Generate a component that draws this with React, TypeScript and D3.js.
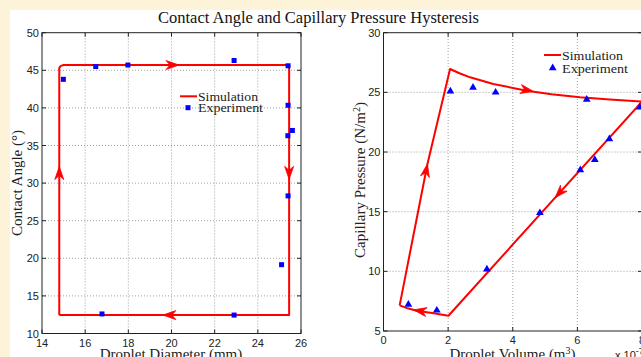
import * as d3 from 'd3';
import React from 'react';

// left panel: contact angle vs droplet diameter
const diaTicks = [14, 16, 18, 20, 22, 24, 26];
const angTicks = [10, 15, 20, 25, 30, 35, 40, 45, 50];
const simDia = [14.8, 14.8, 14.85, 15.0, 25.45, 25.45, 14.8];
const simAng = [12.45, 45.3, 45.55, 45.7, 45.7, 12.45, 12.45];
const expDia = [14.99, 16.49, 17.98, 22.9, 25.4, 25.4, 25.6, 25.39, 25.4, 25.1, 16.78, 22.9];
const expAng = [43.8, 45.5, 45.7, 46.3, 45.6, 40.35, 37.0, 36.3, 28.3, 19.15, 12.6, 12.45];
// arrow tips and the point each one comes from
const angArrowTip = [[14.8, 32.2], [20.35, 45.7], [25.45, 30.5], [19.6, 12.45]];
const angArrowFrom = [[14.8, 28], [18, 45.7], [25.45, 35], [22, 12.45]];

// right panel: capillary pressure vs droplet volume (x 1e-7)
const volTicks = [0, 2, 4, 6, 8];
const presTicks = [5, 10, 15, 20, 25, 30];
const simVol = [0.5, 1.36, 2.06, 2.35, 2.68, 3.4, 4.43, 5.2, 6.08, 7.0, 8.0, 2.01, 1.55, 1.03, 0.75, 0.5];
const simPres = [7.15, 19.0, 26.96, 26.6, 26.26, 25.7, 25.14, 24.85, 24.6, 24.4, 24.22, 6.28, 6.48, 6.7, 6.9, 7.15];
const expVol = [2.07, 2.77, 3.47, 6.29, 7.93, 6.99, 6.54, 6.09, 4.84, 3.2, 0.77, 1.65];
const expPres = [25.1, 25.4, 25.0, 24.4, 23.75, 21.1, 19.35, 18.5, 14.9, 10.17, 7.23, 6.73];
const presArrowTip = [[1.36, 19.0], [4.64, 25.08], [5.31, 16.16], [0.93, 6.77]];
const presArrowFrom = [[0.5, 7.15], [3.4, 25.7], [8.0, 24.22], [2.01, 6.28]];

const RED = '#ff0000';
const BLUE = '#0000ff';
const SERIF = '"Liberation Serif", "Times New Roman", serif';
const SANS = '"Liberation Sans", Arial, sans-serif';

type Scale = d3.ScaleLinear<number, number>;

function arrowPath(x: Scale, y: Scale, tip: number[], from: number[]) {
  const tx = x(tip[0]);
  const ty = y(tip[1]);
  const a = Math.atan2(ty - y(from[1]), tx - x(from[0]));
  const len = 13, half = 4.5, notch = 9;
  const c = Math.cos(a), s = Math.sin(a);
  const pt = (back: number, side: number) =>
    `${tx - back * c - side * s},${ty - back * s + side * c}`;
  return `M${tx},${ty}L${pt(len, half)}L${pt(notch, 0)}L${pt(len, -half)}Z`;
}

function Frame({ x, y, xt, yt }: { x: Scale; y: Scale; xt: number[]; yt: number[] }) {
  const [x0, x1] = x.range();
  const [y0, y1] = y.range();
  const tick = 4;
  return (
    <g>
      {/* grid */}
      {xt.slice(1, -1).map((t) => (
        <line key={'gx' + t} x1={x(t)} x2={x(t)} y1={y0} y2={y1}
          stroke="#8a8a8a" strokeWidth={0.8} strokeDasharray="1 2" />
      ))}
      {yt.slice(1, -1).map((t) => (
        <line key={'gy' + t} x1={x0} x2={x1} y1={y(t)} y2={y(t)}
          stroke="#8a8a8a" strokeWidth={0.8} strokeDasharray="1 2" />
      ))}
      {/* ticks on all sides */}
      {xt.map((t) => (
        <g key={'tx' + t}>
          <line x1={x(t)} x2={x(t)} y1={y0} y2={y0 - tick} stroke="#222" />
          <line x1={x(t)} x2={x(t)} y1={y1} y2={y1 + tick} stroke="#222" />
          <text x={x(t)} y={y0 + 13} textAnchor="middle" fontFamily={SANS} fontSize={11} fill="#222">{t}</text>
        </g>
      ))}
      {yt.map((t) => (
        <g key={'ty' + t}>
          <line x1={x0} x2={x0 + tick} y1={y(t)} y2={y(t)} stroke="#222" />
          <line x1={x1} x2={x1 - tick} y1={y(t)} y2={y(t)} stroke="#222" />
          <text x={x0 - 3} y={y(t) + 4} textAnchor="end" fontFamily={SANS} fontSize={11} fill="#222">{t}</text>
        </g>
      ))}
      <rect x={x0} y={y1} width={x1 - x0} height={y0 - y1} fill="none" stroke="#222" strokeWidth={1} />
    </g>
  );
}

export default function App() {
  const xL = d3.scaleLinear().domain([14, 26]).range([42, 301]);
  const yL = d3.scaleLinear().domain([10, 50]).range([333.5, 32.7]);
  const xR = d3.scaleLinear().domain([0, 8]).range([383.5, 642]);
  const yR = d3.scaleLinear().domain([5, 30]).range([331, 32.7]);

  const lineL = d3.line<number>().x((d) => xL(simDia[d])).y((d) => yL(simAng[d]));
  const lineR = d3.line<number>().x((d) => xR(simVol[d])).y((d) => yR(simPres[d]));
  const tri = d3.symbol().type(d3.symbolTriangle).size(26)();

  return (
    <svg width={641} height={357} style={{ position: 'absolute', left: 0, top: 0 }}>
      <rect width={641} height={357} fill="#fdf3d8" />
      <rect x={10} y={10} width={631} height={347} fill="#ffffff" />

      <text x={158} y={23} textLength={321} lengthAdjust="spacingAndGlyphs" fontFamily={SERIF} fontSize={16} fill="#111">
        Contact Angle and Capillary Pressure Hysteresis
      </text>

      {/* left panel */}
      <Frame x={xL} y={yL} xt={diaTicks} yt={angTicks} />
      <path d={lineL(d3.range(simDia.length)) || ''} fill="none" stroke={RED} strokeWidth={2} strokeLinejoin="round" />
      {angArrowTip.map((t, i) => (
        <path key={i} d={arrowPath(xL, yL, t, angArrowFrom[i])} fill={RED} stroke={RED} strokeWidth={0.8} />
      ))}
      {expDia.map((d, i) => (
        <rect key={i} x={xL(d) - 2.5} y={yL(expAng[i]) - 2.5} width={5} height={5} fill={BLUE} />
      ))}
      <line x1={180} x2={197} y1={96.3} y2={96.3} stroke={RED} strokeWidth={2} />
      <text x={198} y={100.5} textLength={60} lengthAdjust="spacingAndGlyphs" fontFamily={SERIF} fontSize={13} fill="#222">Simulation</text>
      <rect x={185.5} y={105.2} width={5} height={5} fill={BLUE} />
      <text x={198} y={112} textLength={65} lengthAdjust="spacingAndGlyphs" fontFamily={SERIF} fontSize={13} fill="#222">Experiment</text>
      <text x={171} y={359} textAnchor="middle" fontFamily={SERIF} fontSize={15} fill="#222">Droplet Diameter (mm)</text>
      <text transform="translate(22,183) rotate(-90)" textAnchor="middle" fontFamily={SERIF} fontSize={15} fill="#222">
        Contact Angle (°)
      </text>

      {/* right panel */}
      <Frame x={xR} y={yR} xt={volTicks} yt={presTicks} />
      <path d={lineR(d3.range(simVol.length)) || ''} fill="none" stroke={RED} strokeWidth={2} strokeLinejoin="round" />
      {presArrowTip.map((t, i) => (
        <path key={i} d={arrowPath(xR, yR, t, presArrowFrom[i])} fill={RED} stroke={RED} strokeWidth={0.8} />
      ))}
      {expVol.map((v, i) => (
        <path key={i} d={tri || ''} transform={`translate(${xR(v)},${yR(expPres[i])})`} fill={BLUE} />
      ))}
      <line x1={544} x2={561} y1={55} y2={55} stroke={RED} strokeWidth={2} />
      <text x={562} y={59.5} textLength={61} lengthAdjust="spacingAndGlyphs" fontFamily={SERIF} fontSize={13} fill="#222">Simulation</text>
      <path d={tri || ''} transform="translate(552.7,68)" fill={BLUE} />
      <text x={562} y={72.5} textLength={66} lengthAdjust="spacingAndGlyphs" fontFamily={SERIF} fontSize={13} fill="#222">Experiment</text>
      <text x={512.5} y={359} textAnchor="middle" fontFamily={SERIF} fontSize={15} fill="#222">
        Droplet Volume (m<tspan dy={-5} fontSize={10}>3</tspan><tspan dy={5}>)</tspan>
      </text>
      <text transform="translate(365,180) rotate(-90)" textAnchor="middle" fontFamily={SERIF} fontSize={15} fill="#222">
        Capillary Pressure (N/m<tspan dy={-5} fontSize={10}>2</tspan><tspan dy={5}>)</tspan>
      </text>
      <text x={615} y={359} fontFamily={SANS} fontSize={11} fill="#222">
        x 10<tspan dy={-5} fontSize={9}>-7</tspan>
      </text>
    </svg>
  );
}
